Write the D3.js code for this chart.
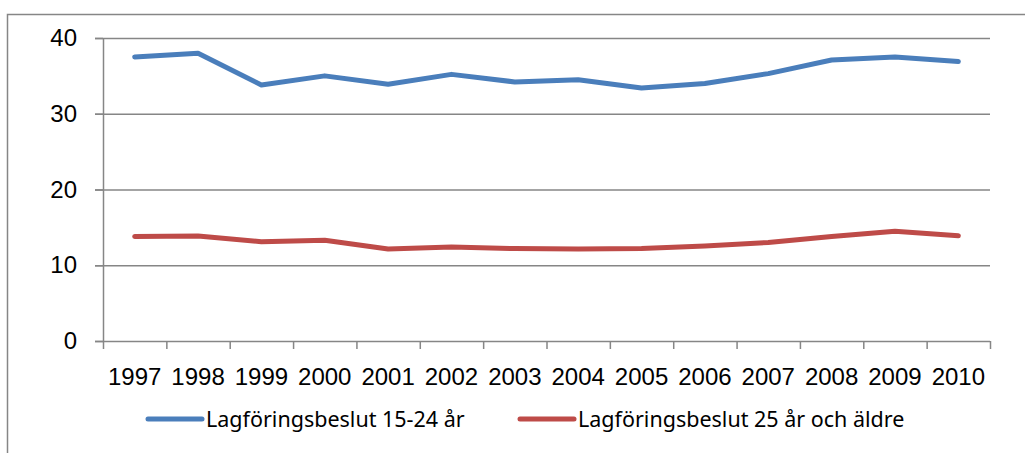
<!DOCTYPE html>
<html>
<head>
<meta charset="utf-8">
<script src="https://cdn.jsdelivr.net/npm/d3@7"></script>
<style>
  html, body { margin: 0; padding: 0; background: #fff; }
  svg { display: block; font-family: "Noto Sans", sans-serif; }
  .tick text { fill: #000; }
  .legend text { font-size: 21.5px; fill: #000; }
</style>
</head>
<body>
<div id="chart"></div>
<script>
const years = ['1997', '1998', '1999', '2000', '2001', '2002', '2003', '2004',
  '2005', '2006', '2007', '2008', '2009', '2010'];
const young = [37.5, 38.0, 33.8, 35.0, 33.9, 35.2, 34.2, 34.5, 33.4, 34.0, 35.3, 37.1, 37.5, 36.9];
const older = [13.8, 13.85, 13.1, 13.3, 12.15, 12.4, 12.2, 12.15, 12.2, 12.55, 13.0, 13.8, 14.5, 13.9];
const yTicks = [0, 10, 20, 30, 40];
const seriesNames = ['Lagföringsbeslut 15-24 år', 'Lagföringsbeslut 25 år och äldre'];
const colors = ['#4a7ebb', '#be4b48'];

const W = 1025, H = 453;
const m = { left: 103, right: 990, top: 38, bottom: 341 };
const gray = '#868686';

const svg = d3.select('#chart').append('svg').attr('width', W).attr('height', H);

// outer chart frame (cropped on the right and bottom)
svg.append('path')
  .attr('d', `M7.5,${H + 2}V14.5H${W + 2}`)
  .attr('fill', 'none').attr('stroke', gray).attr('stroke-width', 1.5);

const x = d3.scaleBand().domain(years).range([m.left, m.right]).padding(0);
const xb = d3.scaleLinear().domain([0, years.length]).range([m.left, m.right]);
const y = d3.scaleLinear().domain([0, 40]).range([m.bottom, m.top]);

// gridlines
svg.append('g')
  .attr('transform', `translate(${m.left - 8},0)`)
  .call(d3.axisLeft(y).tickValues(yTicks.slice(1)).tickSize(-(m.right - m.left + 8)).tickFormat(''))
  .call(g => g.select('.domain').remove())
  .call(g => g.selectAll('line').attr('stroke', gray).attr('stroke-width', 1.5));

// y axis
svg.append('g')
  .attr('transform', `translate(${m.left},0)`)
  .call(d3.axisLeft(y).tickValues(yTicks).tickSize(8).tickPadding(18))
  .call(g => g.select('.domain').attr('stroke', gray).attr('stroke-width', 1.5).attr('d', `M0.5,${m.top}V${m.bottom}`))
  .call(g => g.selectAll('line').attr('stroke', gray).attr('stroke-width', 1.5))
  .call(g => g.selectAll('text').attr('font-size', 24).attr('font-family', null));

// x axis boundary ticks
svg.append('g')
  .attr('transform', `translate(0,${m.bottom})`)
  .call(d3.axisBottom(xb).ticks(years.length).tickSize(8).tickFormat(''))
  .call(g => g.select('.domain').attr('stroke', gray).attr('stroke-width', 1.5).attr('d', `M${m.left - 8},0.5H${m.right}`))
  .call(g => g.selectAll('line').attr('stroke', gray).attr('stroke-width', 1.5));

// x labels
svg.append('g')
  .attr('transform', `translate(0,${m.bottom})`)
  .call(d3.axisBottom(x).tickSize(0).tickPadding(27))
  .call(g => g.select('.domain').remove())
  .call(g => g.selectAll('text').attr('font-size', 24).attr('font-family', null));

const line = d3.line()
  .x((d, i) => x(years[i]) + x.bandwidth() / 2)
  .y(d => y(d));

[young, older].forEach((s, k) => {
  svg.append('path')
    .datum(s)
    .attr('d', line)
    .attr('fill', 'none')
    .attr('stroke', colors[k])
    .attr('stroke-width', 5)
    .attr('stroke-linecap', 'round')
    .attr('stroke-linejoin', 'round');
});

// legend
const legendX = [148, 520];
const legend = svg.append('g').attr('class', 'legend');
seriesNames.forEach((name, k) => {
  legend.append('line')
    .attr('x1', legendX[k]).attr('x2', legendX[k] + 54)
    .attr('y1', 419).attr('y2', 419)
    .attr('stroke', colors[k]).attr('stroke-width', 5).attr('stroke-linecap', 'round');
  legend.append('text')
    .attr('x', legendX[k] + 58).attr('y', 419).attr('dy', '0.35em')
    .text(name);
});
</script>
</body>
</html>
